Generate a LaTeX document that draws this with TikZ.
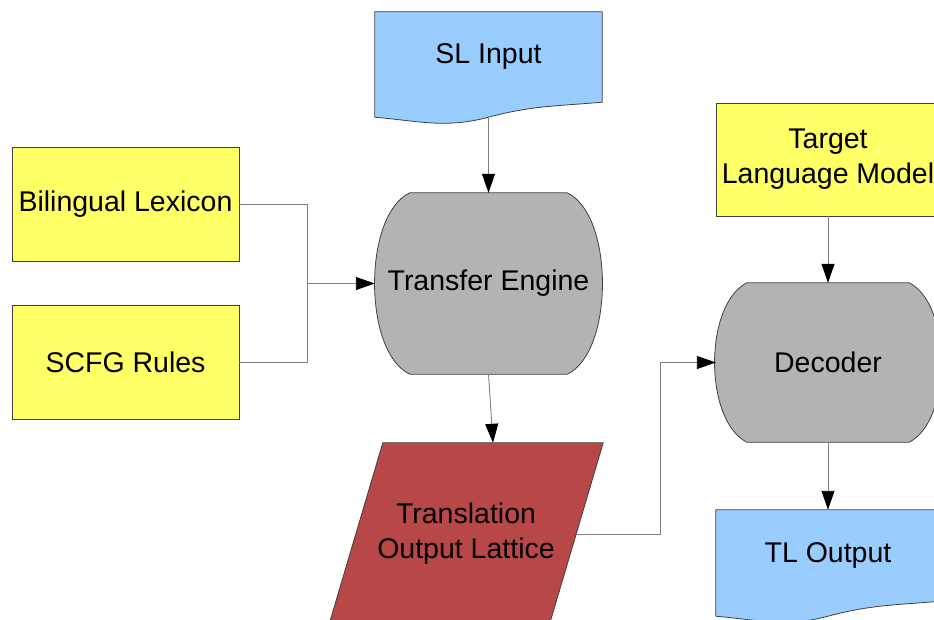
\documentclass[tikz,border=0pt]{standalone}
\usepackage{fontspec}
\setmainfont{Liberation Sans}
\usetikzlibrary{arrows.meta,calc,backgrounds}
\definecolor{flowyellow}{HTML}{FFFF66}
\definecolor{flowblue}{HTML}{99CCFF}
\definecolor{flowgray}{HTML}{B3B3B3}
\definecolor{flowred}{HTML}{B84747}
\definecolor{flowline}{HTML}{808080}

\begin{document}
\begin{tikzpicture}[x=1pt, y=1pt,
  txt/.style={align=center, font=\fontsize{28.5}{35}\selectfont, inner sep=0pt},
  srcbox/.style={txt, draw=black!75, line width=0.8pt, fill=flowyellow,
    minimum width=227pt, minimum height=114pt},
  outline/.style={draw=black!75, line width=0.8pt},
  conn/.style={draw=flowline, line width=0.9pt},
  arr/.style={conn, -{Triangle[length=19pt,width=13pt,color=black]}},
]
\useasboundingbox (0,0) rectangle (934,-620);
% --- resources ---
\node[srcbox] (lex) at (125.5,-204) {Bilingual Lexicon};
\node[srcbox] (scfg) at (125.5,-362.5) {SCFG Rules};
\node[srcbox, minimum width=224pt, minimum height=113pt] (tlm) at (828,-159.5) {Target\\Language Model};
% --- pipeline ---
\node[txt, minimum width=227pt, minimum height=90pt] (slin) at (488.5,-57) {SL Input};
\node[txt, minimum width=227pt, minimum height=181pt] (te) at (488.5,-283.5) {Transfer Engine};
\node[txt, minimum width=220pt, minimum height=182pt] (lat) at (466,-534) {Translation\\Output Lattice};
\node[txt, minimum width=224pt, minimum height=159pt] (dec) at (828,-362.5) {Decoder};
\node[txt, minimum width=224pt, minimum height=91pt] (tlout) at (828,-555.5) {TL Output};
% --- outlines behind the text ---
\begin{scope}[on background layer]
\foreach \d in {slin,tlout}
  \draw[outline, fill=flowblue] (\d.north west) -- (\d.north east) -- (\d.south east)
    to[out=185,in=15] ($(\d.south)+(0,-15)$)
    to[out=195,in=-5] ($(\d.south west)+(0,-15)$) -- cycle;
\foreach \b/\k in {te/35, dec/31}
  \draw[outline, fill=flowgray] ($(\b.north west)+(\k,0)$) -- ($(\b.north east)+(-\k,0)$)
    .. controls ($(\b.north east)+(12,-22)$) and ($(\b.south east)+(12,22)$)
    .. ($(\b.south east)+(-\k,0)$) -- ($(\b.south west)+(\k,0)$)
    .. controls ($(\b.south west)+(-12,22)$) and ($(\b.north west)+(-12,-22)$)
    .. ($(\b.north west)+(\k,0)$) -- cycle;
\draw[outline, fill=flowred] ($(lat.north west)+(27,0)$) -- ($(lat.north east)+(27,0)$)
  -- ($(lat.south east)+(-27,0)$) -- ($(lat.south west)+(-27,0)$) -- cycle;
\end{scope}
% --- connectors ---
\coordinate (merge) at (307,-283.5);
\draw[conn] (lex.east) -| (merge);
\draw[conn] (scfg.east) -| (merge);
\draw[arr] (merge) -- (te.west);
\draw[arr, shorten <=15pt] (slin.south) -- (te.north);
\draw[arr] (te.south) -- ($(lat.north)+(27,0)$);
\draw[arr] (lat.east) -- ++(84,0) |- (dec.west);
\draw[arr] (tlm.south) -- (dec.north);
\draw[arr] (dec.south) -- (tlout.north);
\end{tikzpicture}
\end{document}
